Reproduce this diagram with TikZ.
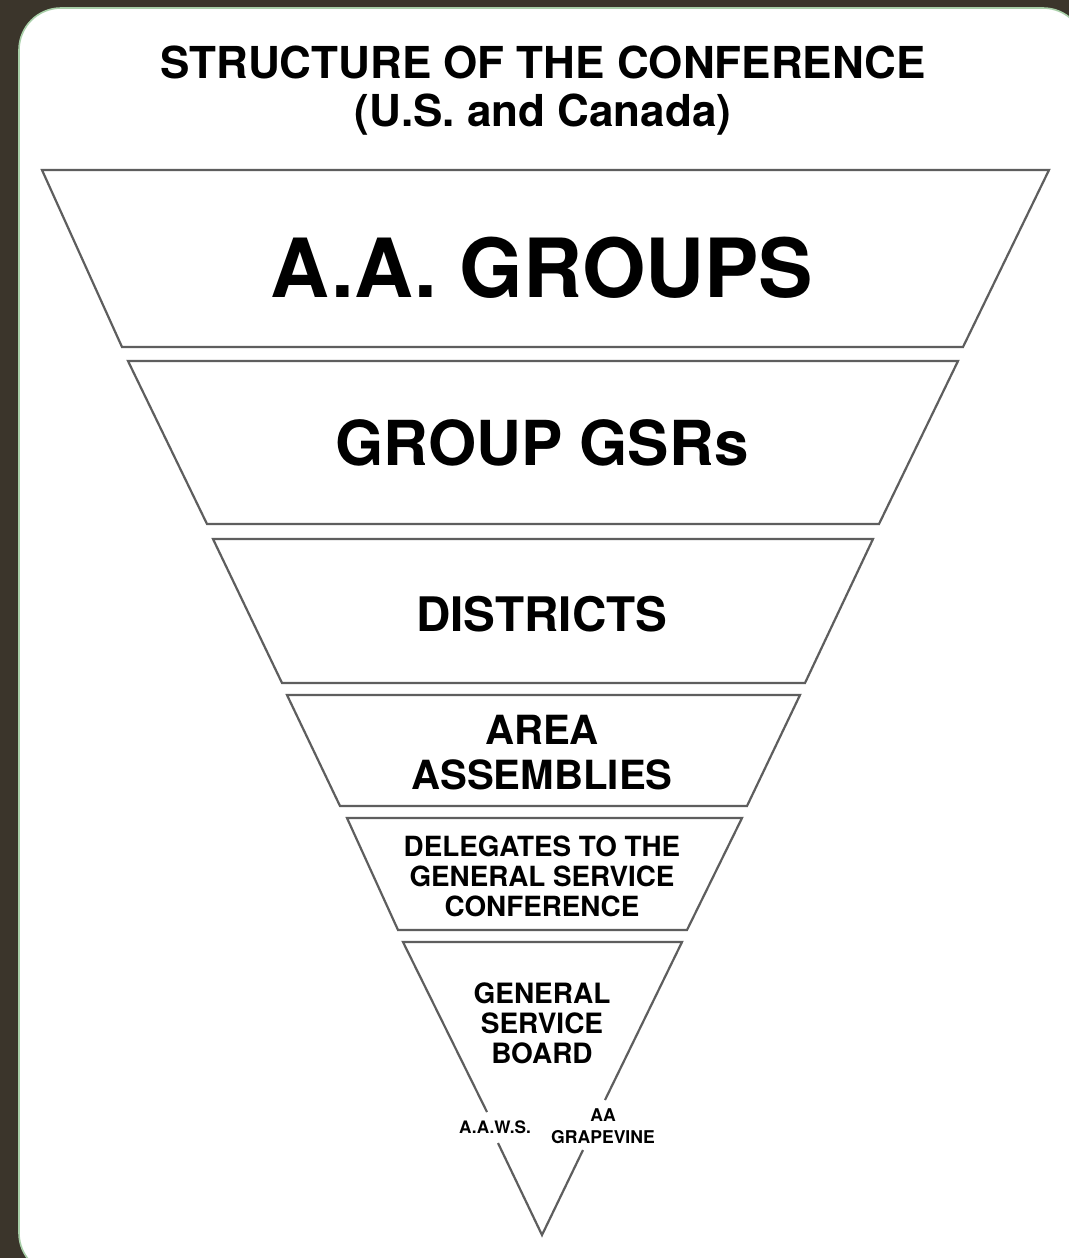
\documentclass[tikz,border=0pt]{standalone}
\usepackage{fontspec}
\setmainfont{TeX Gyre Heros}
\definecolor{bgbrown}{HTML}{3B352B}
\definecolor{rimgreen}{HTML}{A8CFA8}
\definecolor{edgegray}{HTML}{5E5E5E}
\tikzset{
  band/.style={draw=edgegray, line width=1.1pt, line join=miter},
  lbl/.style={font=\bfseries, text=black, inner sep=0pt, align=center},
}
\begin{document}
\begin{tikzpicture}[x=0.5pt, y=-0.5pt]
\useasboundingbox (0,0) rectangle (1069,1258);
\fill[bgbrown] (0,0) rectangle (1069,1258);
\draw[rimgreen, fill=white, line width=0.8pt, rounded corners=21pt] (19,8) rectangle (1085,1275);
% title
\node[lbl, font=\bfseries\fontsize{22}{26}\selectfont] (title) at (543,62) {STRUCTURE OF THE CONFERENCE};
\node[lbl, font=\bfseries\fontsize{22}{26}\selectfont] (sub) at (543,115) {(U.S. and Canada)};
% bands
\draw[band] (42,170) -- (1049,170) -- (963,347) -- (122,347) -- cycle;
\draw[band] (128,361) -- (958,361) -- (879,524) -- (207,524) -- cycle;
\draw[band] (213,539) -- (873,539) -- (805,683) -- (282,683) -- cycle;
\draw[band] (287,695) -- (800,695) -- (747,806) -- (340,806) -- cycle;
\draw[band] (347,818) -- (742,818) -- (687,930) -- (398,930) -- cycle;
% bottom triangle with gaps for labels
\coordinate (apex) at (542,1235);
\coordinate (tl) at (403,942);
\coordinate (tr) at (682,942);
\coordinate (lgapA) at (487,1112);
\coordinate (lgapB) at (498,1143);
\coordinate (rgapA) at (605,1100);
\coordinate (rgapB) at (583,1150);
\draw[band] (lgapA) -- (tl) -- (tr) -- (rgapA);
\draw[band] (lgapB) -- (apex) -- (rgapB);
% texts
\node[lbl, font=\bfseries\fontsize{40.8}{44}\selectfont] (groups) at (542,268) {A.A. GROUPS};
\node[lbl, font=\bfseries\fontsize{31}{36}\selectfont] (gsrs) at (542,443) {GROUP GSRs};
\node[lbl, font=\bfseries\fontsize{23.8}{28}\selectfont] (districts) at (542,614) {DISTRICTS};
\node[lbl, font=\bfseries\fontsize{20.1}{22.5}\selectfont] (area) at (542,753) {AREA\\ASSEMBLIES};
\node[lbl, font=\bfseries\fontsize{13.9}{15}\selectfont] (deleg) at (542,876) {DELEGATES TO THE\\GENERAL SERVICE\\CONFERENCE};
\node[lbl, font=\bfseries\fontsize{14}{15}\selectfont] (gsb) at (542,1023) {GENERAL\\SERVICE\\BOARD};
\node[lbl, font=\bfseries\fontsize{8.6}{9}\selectfont] (aaws) at (495,1127) {A.A.W.S.};
\node[lbl, font=\bfseries\fontsize{8.8}{11}\selectfont] (grape) at (603,1126) {AA\\GRAPEVINE};
\end{tikzpicture}
\end{document}
